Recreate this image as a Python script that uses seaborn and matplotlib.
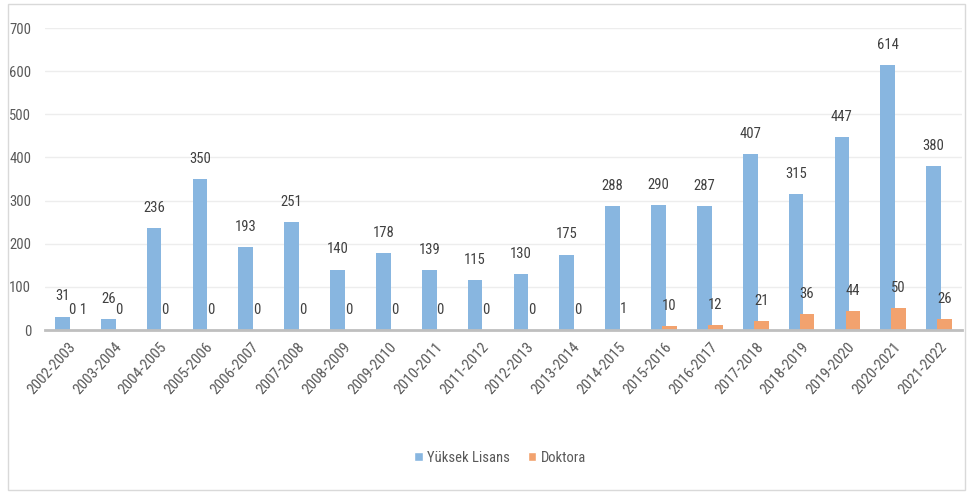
import matplotlib
matplotlib.use("Agg")
import matplotlib.pyplot as plt
import seaborn as sns
import pandas as pd
from matplotlib.patches import Rectangle

years = ["2002-2003", "2003-2004", "2004-2005", "2005-2006", "2006-2007", "2007-2008",
         "2008-2009", "2009-2010", "2010-2011", "2011-2012", "2012-2013", "2013-2014",
         "2014-2015", "2015-2016", "2016-2017", "2017-2018", "2018-2019", "2019-2020",
         "2020-2021", "2021-2022"]
yuksek_lisans = [31, 26, 236, 350, 193, 251, 140, 178, 139, 115, 130, 175,
                 288, 290, 287, 407, 315, 447, 614, 380]
doktora = [0, 0, 0, 0, 0, 0, 0, 0, 0, 0, 0, 0, 1, 10, 12, 21, 36, 44, 50, 26]
doktora_labels = ["0 1"] + [str(v) for v in doktora[1:]]
series_names = ["Yüksek Lisans", "Doktora"]
colors = ["#88B6E0", "#F2A26E"]

sns.set_theme(style="white")
plt.rcParams['font.family'] = ['Liberation Sans Narrow', 'Roboto Condensed', 'Open Sans', 'DejaVu Sans']

df = pd.DataFrame({
    "Yıl": years * 2,
    "Sayı": yuksek_lisans + doktora,
    "Tür": [series_names[0]] * len(years) + [series_names[1]] * len(years),
})

fig = plt.figure(figsize=(9.71, 4.92), dpi=100)
fig.patches.append(Rectangle((8 / 971, 1 - 490 / 492), 957 / 971, 486 / 492,
                             transform=fig.transFigure, fill=False,
                             edgecolor="#D9D9D9", lw=1.0))
ax = fig.add_axes([45 / 971, 1 - 330 / 492, 917 / 971, 302 / 492])

sns.barplot(data=df, x="Yıl", y="Sayı", hue="Tür", palette=colors, ax=ax,
            dodge=True, width=0.6, saturation=1, legend=True)

n = len(years)
bw = 0.32
offs = [-0.12, 0.12]
for k, cont in enumerate(ax.containers[:2]):
    for i, p in enumerate(cont.patches):
        p.set_width(bw)
        p.set_x(i + offs[k] - bw / 2)
        p.set_edgecolor("none")

label_color = "#404040"
for i, v in enumerate(yuksek_lisans):
    ax.annotate(str(v), (i + offs[0], v), xytext=(0, 14.5), textcoords="offset points",
                ha="center", va="center", fontsize=10.5, color=label_color)
for i, (v, lab) in enumerate(zip(doktora, doktora_labels)):
    dx = 3 if i == 0 else 0
    ax.annotate(lab, (i + offs[1], v), xytext=(dx, 14.5), textcoords="offset points",
                ha="center", va="center", fontsize=10.5, color=label_color)

ax.set_xlim(-0.5, n - 0.5)
ax.set_ylim(0, 700)
ax.set_yticks(range(0, 701, 100))
ax.yaxis.grid(True, color="#EDEDED", lw=1)
ax.set_axisbelow(True)
for s in ["top", "right", "left"]:
    ax.spines[s].set_visible(False)
ax.spines["bottom"].set_color("#BFBFBF")
ax.spines["bottom"].set_linewidth(2)
ax.tick_params(axis="both", length=0, colors="#595959")
ax.tick_params(axis="y", pad=10, labelsize=10.5)
ax.tick_params(axis="x", pad=7, labelsize=11)
ax.set_xticks(range(n))
ax.set_xticklabels(years, rotation=48, ha="right", rotation_mode="anchor")
ax.set_xlabel("")
ax.set_ylabel("")

leg = ax.legend(loc="center", bbox_to_anchor=(500 / 971, 1 - 458 / 492),
                bbox_transform=fig.transFigure, ncol=2, frameon=False,
                fontsize=10.5, handlelength=0.6, handleheight=0.6,
                handletextpad=0.3, columnspacing=1.2)
for t in leg.get_texts():
    t.set_color("#595959")

fig.savefig("out.png", dpi=100)
